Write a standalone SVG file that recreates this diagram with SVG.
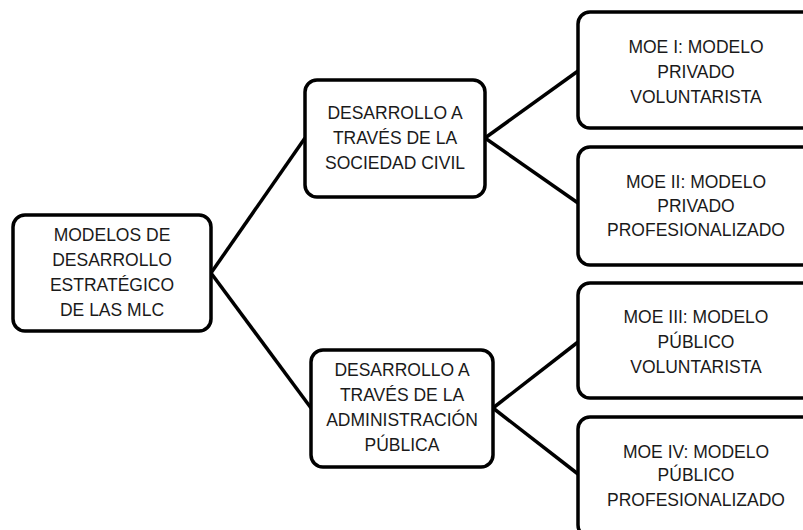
<svg xmlns="http://www.w3.org/2000/svg" width="803" height="530" viewBox="0 0 803 530">
<style>
.box{fill:#fff;stroke:#000;stroke-width:3.5}
.t{font-family:"Liberation Sans",Arial,sans-serif;font-size:17.5px;fill:#1a1a1a;text-anchor:middle}
.c{fill:none;stroke:#000;stroke-width:3.5}
</style>
<rect width="803" height="530" fill="#fff"/>
<g id="connectors">
<line class="c" x1="211" y1="273" x2="305" y2="138"/>
<line class="c" x1="211" y1="273" x2="311" y2="408"/>
<line class="c" x1="485" y1="138" x2="578" y2="71"/>
<line class="c" x1="485" y1="138" x2="578" y2="203"/>
<line class="c" x1="493" y1="408" x2="578" y2="342"/>
<line class="c" x1="493" y1="408" x2="578" y2="474"/>
</g>
<g id="root">
<rect class="box" x="13" y="215" width="198" height="116" rx="12"/>
<text class="t" x="112" y="241">MODELOS DE</text>
<text class="t" x="112" y="266">DESARROLLO</text>
<text class="t" x="112" y="291">ESTRATÉGICO</text>
<text class="t" x="112" y="316">DE LAS MLC</text>
</g>
<g id="civil">
<rect class="box" x="305" y="80" width="180" height="117" rx="12"/>
<text class="t" x="395" y="119">DESARROLLO A</text>
<text class="t" x="395" y="144">TRAVÉS DE LA</text>
<text class="t" x="395" y="169">SOCIEDAD CIVIL</text>
</g>
<g id="publica">
<rect class="box" x="311" y="350" width="182" height="117" rx="12"/>
<text class="t" x="402" y="376">DESARROLLO A</text>
<text class="t" x="402" y="401">TRAVÉS DE LA</text>
<text class="t" x="402" y="426">ADMINISTRACIÓN</text>
<text class="t" x="402" y="451">PÚBLICA</text>
</g>
<g id="moe1">
<rect class="box" x="578" y="12" width="240" height="116" rx="12"/>
<text class="t" x="696" y="53">MOE I: MODELO</text>
<text class="t" x="696" y="78">PRIVADO</text>
<text class="t" x="696" y="103">VOLUNTARISTA</text>
</g>
<g id="moe2">
<rect class="box" x="578" y="147" width="240" height="118" rx="12"/>
<text class="t" x="696" y="188">MOE II: MODELO</text>
<text class="t" x="696" y="212">PRIVADO</text>
<text class="t" x="696" y="236">PROFESIONALIZADO</text>
</g>
<g id="moe3">
<rect class="box" x="578" y="283" width="240" height="115" rx="12"/>
<text class="t" x="696" y="323">MOE III: MODELO</text>
<text class="t" x="696" y="348">PÚBLICO</text>
<text class="t" x="696" y="373">VOLUNTARISTA</text>
</g>
<g id="moe4">
<rect class="box" x="578" y="417" width="240" height="120" rx="12"/>
<text class="t" x="696" y="458">MOE IV: MODELO</text>
<text class="t" x="696" y="481">PÚBLICO</text>
<text class="t" x="696" y="506">PROFESIONALIZADO</text>
</g>
</svg>
